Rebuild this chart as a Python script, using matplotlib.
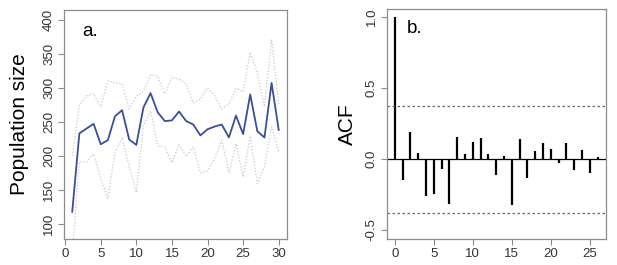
import numpy as np
import matplotlib
matplotlib.use("Agg")
import matplotlib.pyplot as plt

plt.rcParams['font.family'] = ['Liberation Sans', 'DejaVu Sans']

# panel a: mean population size with upper / lower envelope
years = list(range(1, 31))
mean_pop = [118, 233, 240, 247, 217, 223, 258, 267, 224, 216,
            271, 292, 264, 251, 252, 265, 251, 246, 230, 239,
            243, 246, 227, 259, 232, 290, 236, 227, 307, 238]
upper_pop = [200, 274, 288, 291, 271, 310, 307, 306, 269, 287,
             295, 319, 317, 291, 315, 313, 305, 278, 283, 300,
             288, 269, 276, 299, 294, 352, 322, 272, 371, 275]
lower_pop = [55, 191, 191, 203, 167, 138, 204, 227, 184, 146,
             245, 266, 215, 213, 190, 217, 199, 213, 175, 178,
             196, 223, 175, 218, 169, 229, 159, 184, 243, 206]

# panel b: autocorrelation function
lags = list(range(0, 27))
acf = [1.0, -0.146, 0.19, 0.045, -0.263, -0.246, -0.07, -0.315, 0.157, 0.035,
       0.122, 0.148, 0.033, -0.11, 0.021, -0.326, 0.143, -0.136, 0.059, 0.11,
       0.073, -0.028, 0.113, -0.077, 0.066, -0.099, 0.016]
ci = 0.377

frame_col = '#8c8c8c'
text_col = '#333333'

fig = plt.figure(figsize=(6.17, 2.65), dpi=100)
ax1 = fig.add_axes([0.1037, 0.0981, 0.3614, 0.8642])
ax2 = fig.add_axes([0.6267, 0.0992, 0.3550, 0.8670])


def style(ax):
    for s in ax.spines.values():
        s.set_color(frame_col)
        s.set_linewidth(0.9)
    ax.tick_params(direction='out', length=4.5, width=0.8, color=frame_col,
                   labelcolor=text_col, labelsize=9.5, pad=2)
    for lab in ax.get_yticklabels():
        lab.set_rotation(90)
        lab.set_va('center')


ax1.plot(years, upper_pop, color='#c8c8c8', lw=0.9, ls=(0, (1, 1.5)))
ax1.plot(years, lower_pop, color='#c8c8c8', lw=0.9, ls=(0, (1, 1.5)))
ax1.plot(years, mean_pop, color='#3a4f9c', lw=1.3)
ax1.set_xlim(-0.16, 31.16)
ax1.set_ylim(78, 414)
ax1.set_xticks([0, 5, 10, 15, 20, 25, 30])
ax1.set_yticks([100, 150, 200, 250, 300, 350, 400])
ax1.set_ylabel('Population size', fontsize=15, labelpad=10)
ax1.text(0.08, 0.905, 'a.', transform=ax1.transAxes, fontsize=13.5,
         va='center', ha='left')
style(ax1)

ax2.vlines(lags, 0, acf, color='black', lw=1.6)
ax2.axhline(0, color='black', lw=0.9)
ax2.axhline(ci, color='#666666', lw=0.9, ls=(0, (2, 2)))
ax2.axhline(-ci, color='#666666', lw=0.9, ls=(0, (2, 2)))
ax2.set_xlim(-1.04, 27.04)
ax2.set_ylim(-0.561, 1.058)
ax2.set_xticks([0, 5, 10, 15, 20, 25])
ax2.set_yticks([-0.5, 0.0, 0.5, 1.0])
ax2.set_yticklabels(['-0.5', '0.0', '0.5', '1.0'])
ax2.set_ylabel('ACF', fontsize=15, labelpad=6)
ax2.text(0.094, 0.915, 'b.', transform=ax2.transAxes, fontsize=13.5,
         va='center', ha='left')
style(ax2)

fig.savefig('out.png', dpi=100)
